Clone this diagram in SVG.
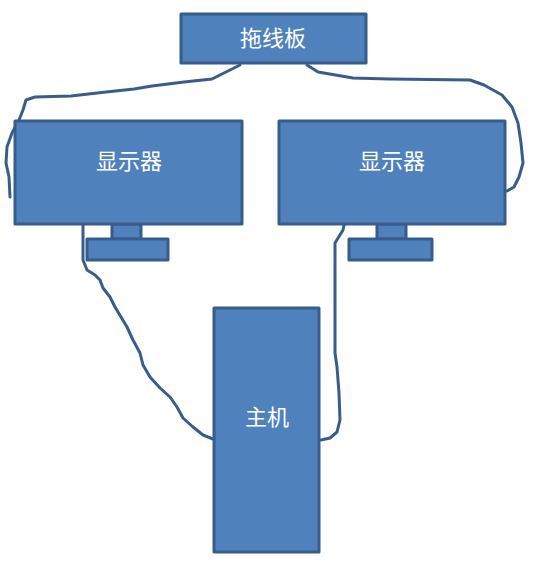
<svg xmlns="http://www.w3.org/2000/svg" width="554" height="574" viewBox="0 0 554 574">
<style>
.box{fill:#4F81BD;stroke:#385D8A;stroke-width:3;stroke-linejoin:round}
.lbl{fill:#FFFFFF;font-family:"Noto Sans CJK SC","Noto Sans",sans-serif;font-size:22px;text-anchor:middle;dominant-baseline:central}
.cable{fill:none;stroke:#385D8A;stroke-width:3;stroke-linecap:round;stroke-linejoin:round}
</style>
<rect width="554" height="574" fill="#FFFFFF"/>
<g id="connectors">
<path class="cable" d="M240,65 L226,72 L212,79 L184,82 L152,86 L134,89 L106,92 L71,96 L35,97 L26,100 L23,110 L19,120 L12,133 L7,147 L6,163 L9,177 L10,197"/>
<path class="cable" d="M307,65 L318,72 L353,78 L389,79 L470,80 L484,85 L502,95 L512,107 L518,123 L521,143 L523,163 L519,177 L514,187 L507,191"/>
<path class="cable" d="M83,224 L83,260 L87,270 L95,275 L100,280 L103,288 L110,297 L115,307 L127,327 L133,340 L140,353 L143,365 L150,377 L160,388 L170,397 L177,407 L183,418 L193,427 L203,435 L213,439"/>
<path class="cable" d="M345,221 L343,230 L335,243 L335,267 L335,353 L337,367 L339,393 L340,420 L337,432 L330,438 L321,440"/>
</g>
<g id="power-strip">
<rect class="box" x="181" y="14" width="185" height="49"/>
<text class="lbl" x="273" y="36">拖线板</text>
</g>
<g id="monitor-left">
<rect class="box" x="112" y="224" width="29" height="15"/>
<rect class="box" x="87" y="239" width="81" height="21"/>
<rect class="box" x="15" y="121" width="227" height="103"/>
<text class="lbl" x="129" y="159">显示器</text>
</g>
<g id="monitor-right">
<rect class="box" x="377" y="224" width="29" height="15"/>
<rect class="box" x="349" y="239" width="83" height="21"/>
<rect class="box" x="279" y="121" width="226" height="103"/>
<text class="lbl" x="392" y="159">显示器</text>
</g>
<g id="host">
<rect class="box" x="214" y="308" width="105" height="244"/>
<text class="lbl" x="267" y="415">主机</text>
</g>
</svg>
